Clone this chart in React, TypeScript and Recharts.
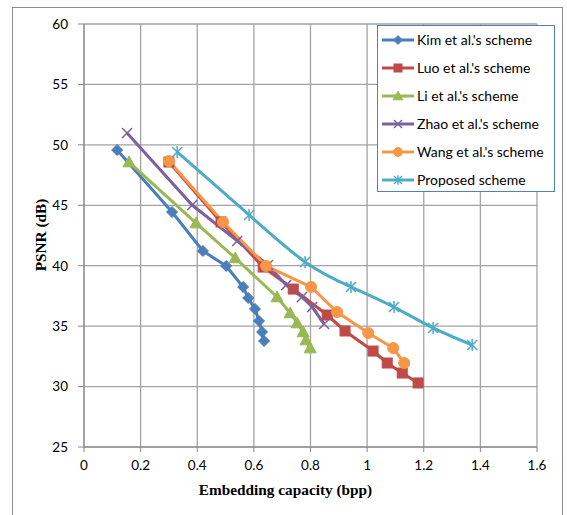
import React from 'react';
import { LineChart, Line, XAxis, YAxis, CartesianGrid, Label } from 'recharts';

const kim = [
  { x: 0.117, y: 49.57 }, { x: 0.311, y: 44.44 }, { x: 0.42, y: 41.22 }, { x: 0.502, y: 39.98 },
  { x: 0.562, y: 38.24 }, { x: 0.58, y: 37.33 }, { x: 0.604, y: 36.42 }, { x: 0.618, y: 35.43 },
  { x: 0.629, y: 34.52 }, { x: 0.636, y: 33.77 },
];
const luo = [
  { x: 0.3, y: 48.58 }, { x: 0.484, y: 43.62 }, { x: 0.633, y: 39.89 }, { x: 0.739, y: 38.07 },
  { x: 0.859, y: 35.92 }, { x: 0.922, y: 34.6 }, { x: 1.021, y: 32.94 }, { x: 1.071, y: 31.95 },
  { x: 1.124, y: 31.12 }, { x: 1.18, y: 30.3 },
];
const li = [
  { x: 0.159, y: 48.58 }, { x: 0.396, y: 43.53 }, { x: 0.534, y: 40.64 }, { x: 0.682, y: 37.41 },
  { x: 0.728, y: 36.09 }, { x: 0.753, y: 35.26 }, { x: 0.774, y: 34.52 }, { x: 0.784, y: 33.85 },
  { x: 0.799, y: 33.19 },
];
const zhao = [
  { x: 0.152, y: 50.98 }, { x: 0.382, y: 45.02 }, { x: 0.541, y: 42.05 }, { x: 0.65, y: 40.06 },
  { x: 0.714, y: 38.4 }, { x: 0.77, y: 37.41 }, { x: 0.806, y: 36.58 }, { x: 0.848, y: 35.18 },
];
const wang = [
  { x: 0.3, y: 48.66 }, { x: 0.491, y: 43.62 }, { x: 0.643, y: 39.98 }, { x: 0.802, y: 38.24 },
  { x: 0.894, y: 36.17 }, { x: 1.004, y: 34.43 }, { x: 1.092, y: 33.19 }, { x: 1.131, y: 31.95 },
];
const proposed = [
  { x: 0.329, y: 49.41 }, { x: 0.583, y: 44.2 }, { x: 0.781, y: 40.31 }, { x: 0.943, y: 38.24 },
  { x: 1.095, y: 36.58 }, { x: 1.233, y: 34.85 }, { x: 1.371, y: 33.44 },
];

const xTicks = [0, 0.2, 0.4, 0.6, 0.8, 1, 1.2, 1.4, 1.6];
const yTicks = [25, 30, 35, 40, 45, 50, 55, 60];

type Shape = 'diamond' | 'square' | 'triangle' | 'cross' | 'circle' | 'star';

const series: { name: string; data: { x: number; y: number }[]; color: string; shape: Shape; smooth?: boolean }[] = [
  { name: "Kim et al.'s scheme", data: kim, color: '#4A7EBB', shape: 'diamond' },
  { name: "Luo et al.'s scheme", data: luo, color: '#BE4B48', shape: 'square' },
  { name: "Li et al.'s scheme", data: li, color: '#98B954', shape: 'triangle' },
  { name: "Zhao et al.'s scheme", data: zhao, color: '#7D60A0', shape: 'cross' },
  { name: "Wang et al.'s scheme", data: wang, color: '#F79646', shape: 'circle' },
  { name: 'Proposed scheme', data: proposed, color: '#4BACC6', shape: 'star', smooth: true },
];

const Marker = ({ cx, cy, shape, color, s = 1 }: { cx: number; cy: number; shape: Shape; color: string; s?: number }) => {
  if (cx == null || cy == null) return null;
  switch (shape) {
    case 'diamond': {
      const r = 5.5 * s;
      return <polygon points={`${cx},${cy - r} ${cx + r},${cy} ${cx},${cy + r} ${cx - r},${cy}`} fill={color} stroke={color} />;
    }
    case 'square': {
      const r = 5 * s;
      return <rect x={cx - r} y={cy - r} width={2 * r} height={2 * r} fill={color} stroke={color} />;
    }
    case 'triangle': {
      const r = 6 * s;
      return <polygon points={`${cx},${cy - r} ${cx + r},${cy + r * 0.8} ${cx - r},${cy + r * 0.8}`} fill={color} stroke={color} />;
    }
    case 'cross': {
      const r = 5 * s;
      return (
        <g stroke={color} strokeWidth={1.5}>
          <line x1={cx - r} y1={cy - r} x2={cx + r} y2={cy + r} />
          <line x1={cx - r} y1={cy + r} x2={cx + r} y2={cy - r} />
        </g>
      );
    }
    case 'circle':
      return <circle cx={cx} cy={cy} r={5.5 * s} fill={color} stroke={color} />;
    case 'star': {
      const r = 5 * s;
      return (
        <g stroke={color} strokeWidth={1.5}>
          <line x1={cx - r} y1={cy - r} x2={cx + r} y2={cy + r} />
          <line x1={cx - r} y1={cy + r} x2={cx + r} y2={cy - r} />
          <line x1={cx} y1={cy - r * 1.2} x2={cx} y2={cy + r * 1.2} />
        </g>
      );
    }
  }
  return null;
};

// legend drawn as a plain box over the chart, like the Excel one
const LegendBox = () => (
  <div
    style={{
      position: 'absolute',
      left: 377,
      top: 25,
      width: 178,
      height: 167,
      boxSizing: 'border-box',
      border: '1px solid #4F81BD',
      background: '#fff',
      fontFamily: 'Lato, sans-serif',
      fontSize: 14,
      color: '#000',
    }}
  >
    {series.map((s) => (
      <div key={s.name} style={{ position: 'relative', height: 28 }}>
        <svg width={40} height={28} style={{ position: 'absolute', left: 0, top: 0 }}>
          <line x1={4} y1={14} x2={36} y2={14} stroke={s.color} strokeWidth={3} />
          <Marker cx={20} cy={14} shape={s.shape} color={s.color} s={0.8} />
        </svg>
        <span style={{ position: 'absolute', left: 39, top: 5, whiteSpace: 'nowrap', lineHeight: '17px' }}>{s.name}</span>
      </div>
    ))}
  </div>
);

const App: React.FC = () => {
  return (
    <div style={{ position: 'absolute', left: 0, top: 0, width: 567, height: 515, background: '#fff', overflow: 'hidden' }}>
      <div
        style={{
          position: 'absolute',
          left: 12,
          top: 7,
          width: 551,
          height: 520,
          border: '1px solid #8c8c8c',
          boxSizing: 'border-box',
        }}
      />
      <LineChart
        width={567}
        height={515}
        margin={{ top: 24, right: 30, left: 24, bottom: 38 }}
        style={{ position: 'absolute', left: 0, top: 0 }}
      >
        <CartesianGrid stroke="#a3a3a3" strokeWidth={1.3} />
        <XAxis
          type="number"
          dataKey="x"
          domain={[0, 1.6]}
          ticks={xTicks}
          interval={0}
          height={30}
          tickSize={5}
          tickMargin={8}
          stroke="#868686"
          tick={{ fill: '#000', fontSize: 13.5, fontFamily: 'Lato, sans-serif' }}
          allowDataOverflow
        >
          <Label
            content={() => (
              <text
                x={285.5}
                y={489}
                textAnchor="middle"
                dominantBaseline="central"
                fontFamily="'Liberation Serif', 'Times New Roman', serif"
                fontWeight="bold"
                fontSize={15.3}
              >
                Embedding capacity (bpp)
              </text>
            )}
          />
        </XAxis>
        <YAxis
          type="number"
          domain={[25, 60]}
          ticks={yTicks}
          interval={0}
          width={60}
          tickSize={6}
          tickMargin={10}
          stroke="#868686"
          tick={{ fill: '#000', fontSize: 13.5, fontFamily: 'Lato, sans-serif' }}
        >
          <Label
            content={() => (
              <text
                x={40.5}
                y={235}
                transform="rotate(-90 40.5 235)"
                textAnchor="middle"
                dominantBaseline="central"
                fontFamily="'Liberation Serif', 'Times New Roman', serif"
                fontWeight="bold"
                fontSize={15.3}
              >
                PSNR (dB)
              </text>
            )}
          />
        </YAxis>
        {series.map((s) => (
          <Line
            key={s.name}
            name={s.name}
            data={s.data}
            dataKey="y"
            type={s.smooth ? 'natural' : 'linear'}
            stroke={s.color}
            strokeWidth={3}
            isAnimationActive={false}
            dot={(p: any) => <Marker key={`${s.name}-${p.index}`} cx={p.cx} cy={p.cy} shape={s.shape} color={s.color} />}
            activeDot={false}
          />
        ))}
      </LineChart>
      <LegendBox />
    </div>
  );
};

export default App;
